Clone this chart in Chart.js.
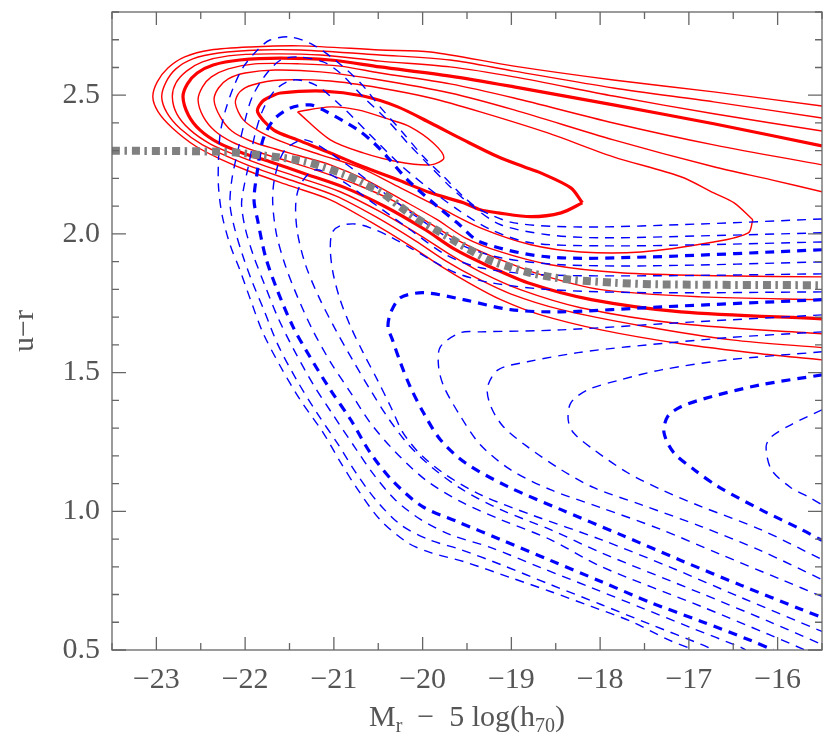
<!DOCTYPE html>
<html>
<head>
<meta charset="utf-8">
<title>u-r vs Mr contours</title>
<script src="https://cdn.jsdelivr.net/npm/chart.js@4.4.1/dist/chart.umd.min.js"></script>
<style>
  html, body { margin: 0; padding: 0; background: #fff; }
  #wrap { width: 830px; height: 746px; }
</style>
</head>
<body>
<div id="wrap"><canvas id="cmd" width="830" height="746"></canvas></div>
<script>
// Axis ticks
const xTicks = [-23, -22, -21, -20, -19, -18, -17, -16];
const yTicks = [0.5, 1.0, 1.5, 2.0, 2.5];

// Red (solid) contours, outer to inner; c4 and c8 are the heavy ones
const redC1 = [[-15.5,2.461],[-16.72,2.512],[-17.85,2.555],[-18.97,2.605],[-19.91,2.656],[-20.48,2.663],[-21.38,2.678],[-21.94,2.674],[-22.39,2.663],[-22.68,2.638],[-22.87,2.598],[-22.99,2.548],[-23.04,2.494],[-22.98,2.440],[-22.82,2.382],[-22.56,2.317],[-22.26,2.267],[-21.94,2.224],[-21.49,2.173],[-21.04,2.123],[-20.59,2.044],[-20.14,1.957],[-19.80,1.885],[-19.46,1.820],[-19.12,1.763],[-18.67,1.708],[-17.99,1.654],[-17.09,1.604],[-16.19,1.568],[-15.5,1.546]];
const redC2 = [[-15.5,2.418],[-16.72,2.476],[-17.85,2.526],[-18.97,2.587],[-19.69,2.627],[-20.48,2.645],[-21.38,2.663],[-21.83,2.663],[-22.30,2.652],[-22.59,2.631],[-22.78,2.595],[-22.89,2.548],[-22.94,2.494],[-22.88,2.436],[-22.73,2.379],[-22.48,2.321],[-22.19,2.278],[-21.89,2.238],[-21.43,2.188],[-20.98,2.137],[-20.53,2.062],[-20.08,1.975],[-19.74,1.903],[-19.40,1.842],[-19.01,1.784],[-18.44,1.727],[-17.54,1.669],[-16.52,1.618],[-15.5,1.590]];
const redC3 = [[-15.5,2.371],[-16.72,2.433],[-17.85,2.497],[-18.97,2.566],[-19.69,2.602],[-20.48,2.623],[-21.15,2.645],[-21.72,2.649],[-22.19,2.642],[-22.48,2.620],[-22.66,2.587],[-22.78,2.544],[-22.82,2.494],[-22.77,2.433],[-22.62,2.375],[-22.39,2.324],[-22.11,2.285],[-21.81,2.249],[-21.38,2.202],[-20.93,2.152],[-20.48,2.080],[-20.02,1.993],[-19.69,1.925],[-19.35,1.863],[-18.90,1.799],[-18.22,1.734],[-17.09,1.676],[-15.5,1.640]];
const redC4 = [[-15.5,2.317],[-16.72,2.397],[-17.85,2.465],[-18.97,2.530],[-19.69,2.569],[-20.48,2.602],[-21.04,2.627],[-21.60,2.634],[-22.06,2.627],[-22.36,2.609],[-22.54,2.580],[-22.65,2.541],[-22.70,2.494],[-22.64,2.429],[-22.51,2.375],[-22.30,2.328],[-22.03,2.292],[-21.72,2.260],[-21.32,2.216],[-20.87,2.166],[-20.42,2.098],[-19.97,2.015],[-19.63,1.943],[-19.29,1.889],[-18.78,1.820],[-18.10,1.763],[-17.09,1.719],[-15.5,1.694]];
const redC5 = [[-15.5,2.249],[-16.72,2.321],[-17.85,2.400],[-18.97,2.490],[-19.69,2.541],[-20.48,2.580],[-20.93,2.605],[-21.38,2.613],[-21.89,2.613],[-22.19,2.595],[-22.38,2.566],[-22.48,2.530],[-22.53,2.483],[-22.47,2.422],[-22.34,2.371],[-22.15,2.332],[-21.89,2.299],[-21.60,2.270],[-21.21,2.231],[-20.76,2.180],[-20.31,2.116],[-19.91,2.036],[-19.57,1.971],[-19.23,1.921],[-18.67,1.853],[-17.99,1.799],[-16.86,1.773],[-15.5,1.763]];
const redC6 = [[-15.5,2.152],[-16.07,2.195],[-16.72,2.242],[-17.85,2.339],[-18.97,2.447],[-19.69,2.508],[-20.48,2.555],[-21.15,2.584],[-21.66,2.591],[-22.00,2.580],[-22.19,2.559],[-22.30,2.526],[-22.35,2.483],[-22.28,2.422],[-22.15,2.371],[-21.94,2.335],[-21.66,2.306],[-21.38,2.281],[-21.04,2.249],[-20.64,2.195],[-20.25,2.126],[-19.85,2.054],[-19.52,1.986],[-19.12,1.935],[-18.56,1.889],[-17.77,1.860],[-16.64,1.849],[-15.5,1.845]];
const redC7 = [[-16.28,2.051],[-16.49,2.112],[-16.72,2.148],[-17.09,2.206],[-17.85,2.278],[-18.59,2.364],[-19.35,2.440],[-19.91,2.490],[-20.48,2.526],[-21.04,2.551],[-21.60,2.555],[-21.92,2.537],[-22.06,2.512],[-22.11,2.472],[-22.02,2.411],[-21.83,2.368],[-21.55,2.328],[-21.15,2.285],[-20.70,2.238],[-20.25,2.166],[-19.80,2.094],[-19.35,2.022],[-18.78,1.961],[-18.22,1.935],[-17.54,1.935],[-16.72,1.971],[-16.33,2.004],[-16.28,2.051]];
const redC8 = [[-18.20,2.112],[-18.33,2.166],[-18.67,2.220],[-18.86,2.242],[-19.15,2.278],[-19.54,2.339],[-19.91,2.400],[-20.28,2.458],[-20.67,2.497],[-21.12,2.515],[-21.60,2.508],[-21.72,2.494],[-21.81,2.476],[-21.86,2.440],[-21.68,2.375],[-21.41,2.339],[-21.04,2.292],[-20.67,2.242],[-20.28,2.195],[-19.91,2.148],[-19.54,2.112],[-19.35,2.087],[-19.15,2.076],[-18.78,2.062],[-18.44,2.076],[-18.20,2.112]];
const redC9 = [[-21.41,2.440],[-21.04,2.458],[-20.73,2.447],[-20.36,2.411],[-20.14,2.386],[-19.88,2.328],[-19.76,2.274],[-19.91,2.249],[-20.28,2.260],[-20.67,2.292],[-21.04,2.339],[-21.41,2.440]];

// Blue (dashed) contours, outer to inner; b4, b8 and b12 are the heavy ones
const blueB1 = [[-15.5,2.054],[-16.86,2.036],[-18.22,2.025],[-18.97,2.040],[-19.35,2.087],[-19.54,2.134],[-19.76,2.206],[-19.99,2.278],[-20.22,2.364],[-20.48,2.458],[-20.70,2.544],[-20.96,2.620],[-21.23,2.681],[-21.49,2.710],[-21.72,2.699],[-21.86,2.663],[-22.02,2.602],[-22.13,2.530],[-22.22,2.447],[-22.28,2.364],[-22.30,2.267],[-22.30,2.170],[-22.26,2.069],[-22.17,1.961],[-22.06,1.871],[-21.94,1.763],[-21.80,1.644],[-21.60,1.521],[-21.38,1.402],[-21.12,1.283],[-20.93,1.179],[-20.73,1.078],[-20.48,0.970],[-20.17,0.887],[-19.91,0.851],[-19.54,0.819],[-19.01,0.761],[-18.56,0.711],[-18.10,0.657],[-17.65,0.603],[-17.24,0.538],[-16.94,0.50]];
const blueB2 = [[-15.5,2.004],[-16.86,1.993],[-17.99,1.986],[-18.59,1.997],[-19.12,2.033],[-19.43,2.098],[-19.69,2.170],[-19.91,2.242],[-20.17,2.328],[-20.40,2.411],[-20.67,2.494],[-20.93,2.580],[-21.12,2.620],[-21.41,2.638],[-21.60,2.627],[-21.77,2.573],[-21.92,2.494],[-22.00,2.411],[-22.08,2.303],[-22.15,2.195],[-22.17,2.105],[-22.12,2.022],[-22.03,1.925],[-21.92,1.827],[-21.78,1.719],[-21.63,1.600],[-21.42,1.474],[-21.20,1.359],[-20.95,1.240],[-20.76,1.143],[-20.53,1.042],[-20.25,0.952],[-19.93,0.898],[-19.57,0.862],[-19.12,0.808],[-18.56,0.736],[-17.99,0.664],[-17.43,0.592],[-16.86,0.520],[-16.72,0.50]];
const blueB3 = [[-15.5,1.971],[-16.86,1.961],[-17.99,1.957],[-18.78,1.968],[-19.23,2.015],[-19.57,2.080],[-19.91,2.159],[-20.25,2.249],[-20.59,2.357],[-20.93,2.465],[-21.21,2.537],[-21.46,2.555],[-21.66,2.519],[-21.80,2.447],[-21.89,2.357],[-21.96,2.249],[-22.02,2.159],[-22.04,2.105],[-22.00,2.022],[-21.91,1.925],[-21.78,1.817],[-21.63,1.698],[-21.45,1.582],[-21.23,1.456],[-21.01,1.348],[-20.76,1.229],[-20.55,1.132],[-20.31,1.042],[-20.02,0.970],[-19.69,0.916],[-19.23,0.869],[-18.67,0.797],[-18.10,0.725],[-17.54,0.653],[-16.98,0.581],[-16.41,0.509],[-16.36,0.50]];
const blueB4 = [[-15.5,1.943],[-17.46,1.917],[-18.59,1.917],[-19.35,1.971],[-19.61,2.040],[-19.83,2.098],[-20.17,2.195],[-20.40,2.278],[-20.55,2.328],[-20.73,2.375],[-21.12,2.447],[-21.27,2.465],[-21.49,2.454],[-21.68,2.411],[-21.80,2.339],[-21.86,2.231],[-21.90,2.123],[-21.86,2.051],[-21.77,1.917],[-21.64,1.799],[-21.46,1.665],[-21.27,1.557],[-21.04,1.438],[-20.81,1.330],[-20.59,1.211],[-20.33,1.107],[-20.00,1.017],[-19.61,0.963],[-19.12,0.898],[-18.56,0.823],[-17.99,0.747],[-17.43,0.671],[-16.86,0.603],[-16.30,0.534],[-16.05,0.50]];
const blueB5 = [[-15.5,1.899],[-17.43,1.885],[-18.44,1.889],[-19.12,1.914],[-19.57,1.961],[-20.02,2.051],[-20.48,2.159],[-20.93,2.267],[-21.32,2.339],[-21.55,2.303],[-21.66,2.213],[-21.69,2.123],[-21.65,2.004],[-21.55,1.889],[-21.41,1.773],[-21.24,1.654],[-21.04,1.539],[-20.81,1.427],[-20.59,1.319],[-20.31,1.215],[-19.97,1.114],[-19.57,1.035],[-19.12,0.970],[-18.56,0.898],[-17.99,0.801],[-16.86,0.657],[-16.10,0.556],[-15.69,0.50]];
const blueB6 = [[-15.5,1.856],[-17.43,1.849],[-18.67,1.853],[-19.35,1.878],[-19.74,1.925],[-20.14,2.015],[-20.53,2.105],[-20.93,2.195],[-21.21,2.231],[-21.38,2.177],[-21.43,2.105],[-21.41,2.004],[-21.32,1.889],[-21.17,1.773],[-20.98,1.654],[-20.79,1.546],[-20.59,1.438],[-20.39,1.337],[-20.16,1.240],[-19.89,1.157],[-19.55,1.078],[-19.12,1.006],[-18.56,0.934],[-17.99,0.851],[-16.86,0.704],[-16.10,0.603],[-15.5,0.520]];
const blueB7 = [[-15.5,1.791],[-17.43,1.788],[-18.56,1.799],[-19.23,1.824],[-19.63,1.860],[-19.91,1.907],[-20.14,1.950],[-20.36,1.989],[-20.59,2.022],[-20.76,2.036],[-20.93,2.029],[-21.02,2.004],[-21.04,1.943],[-21.01,1.860],[-20.93,1.763],[-20.81,1.665],[-20.67,1.572],[-20.51,1.474],[-20.36,1.377],[-20.22,1.283],[-20.02,1.204],[-19.74,1.132],[-19.35,1.060],[-18.78,0.988],[-17.99,0.898],[-17.20,0.797],[-16.41,0.689],[-15.5,0.567]];
const blueB8 = [[-15.5,1.763],[-17.31,1.737],[-18.44,1.719],[-19.01,1.727],[-19.54,1.763],[-19.99,1.788],[-20.25,1.770],[-20.36,1.716],[-20.39,1.665],[-20.34,1.618],[-20.25,1.536],[-20.14,1.449],[-19.99,1.355],[-19.80,1.258],[-19.52,1.175],[-19.04,1.089],[-18.44,1.006],[-17.77,0.916],[-17.09,0.823],[-16.41,0.733],[-15.73,0.646],[-15.5,0.617]];
const blueB9 = [[-15.5,1.708],[-16.94,1.683],[-18.44,1.654],[-19.35,1.647],[-19.57,1.644],[-19.80,1.593],[-19.82,1.521],[-19.76,1.449],[-19.57,1.341],[-19.35,1.240],[-19.01,1.150],[-18.56,1.078],[-17.99,1.013],[-17.31,0.934],[-16.64,0.844],[-15.96,0.754],[-15.5,0.693]];
const blueB10 = [[-15.5,1.647],[-16.56,1.626],[-17.69,1.593],[-18.25,1.572],[-18.82,1.539],[-19.15,1.510],[-19.27,1.446],[-19.23,1.377],[-19.09,1.305],[-18.82,1.233],[-18.44,1.150],[-18.07,1.085],[-17.54,1.024],[-16.86,0.945],[-16.19,0.858],[-15.5,0.754]];
const blueB11 = [[-15.5,1.575],[-16.56,1.546],[-17.31,1.510],[-17.77,1.474],[-18.14,1.438],[-18.33,1.391],[-18.36,1.330],[-18.30,1.283],[-18.07,1.222],[-17.69,1.139],[-17.31,1.078],[-16.86,1.017],[-16.19,0.934],[-15.5,0.826]];
const blueB12 = [[-15.5,1.492],[-16.19,1.456],[-16.75,1.413],[-17.09,1.377],[-17.24,1.341],[-17.28,1.283],[-17.17,1.211],[-16.94,1.150],[-16.67,1.089],[-16.19,1.006],[-15.73,0.934],[-15.5,0.895]];
const blueB13 = [[-15.5,1.366],[-15.85,1.312],[-16.07,1.269],[-16.13,1.233],[-16.07,1.150],[-15.85,1.085],[-15.66,1.053],[-15.5,1.024]];

// Grey dash-dot ridge line
const ridgeLine = [[-23.5,2.300],[-22.26,2.296],[-21.80,2.283],[-21.32,2.260],[-20.87,2.213],[-20.66,2.180],[-20.44,2.144],[-20.25,2.098],[-20.06,2.054],[-19.85,2.015],[-19.66,1.979],[-19.47,1.943],[-19.26,1.907],[-19.02,1.881],[-18.79,1.860],[-18.56,1.845],[-18.32,1.835],[-17.85,1.824],[-17.32,1.818],[-15.5,1.815]];

const SERIF = '"Liberation Serif", "DejaVu Serif", serif';
const INK = '#555';

function contour(data, color, width, dash, order) {
    return {
        data: data,
        showLine: true,
        borderColor: color,
        borderWidth: width,
        borderDash: dash,
        pointRadius: 0,
        tension: 0.3,
        fill: false,
        order: order
    };
}

const reds = [redC1, redC2, redC3, redC4, redC5, redC6, redC7, redC8, redC9];
const blues = [blueB1, blueB2, blueB3, blueB4, blueB5, blueB6, blueB7, blueB8, blueB9, blueB10, blueB11, blueB12, blueB13];

const datasets = [];
datasets.push({
    data: ridgeLine,
    showLine: true,
    borderColor: '#808080',
    borderWidth: 8,
    borderDash: [8, 4.5, 2.5, 5],
    borderCapStyle: 'butt',
    pointRadius: 0,
    tension: 0.3,
    fill: false,
    order: 0
});
blues.forEach((d, i) => {
    const heavy = (i === 3 || i === 7 || i === 11);
    datasets.push(contour(d, '#0000ff', heavy ? 3.2 : 1.4, [9, 7], 1));
});
reds.forEach((d, i) => {
    const heavy = (i === 3 || i === 7);
    datasets.push(contour(d, '#ff0000', heavy ? 3.2 : 1.4, [], 2));
});

// frame with inward ticks on all four sides
const framePlugin = {
    id: 'framePlugin',
    afterDraw(chart) {
        const { ctx, chartArea: a, scales } = chart;
        const xs = scales.x, ys = scales.y;
        ctx.save();
        ctx.strokeStyle = '#666';
        ctx.lineWidth = 1.3;
        ctx.strokeRect(a.left, a.top, a.right - a.left, a.bottom - a.top);
        ctx.beginPath();
        for (let k = -47; k <= -31; k++) {
            const v = k / 2;
            const px = xs.getPixelForValue(v);
            const len = (k % 2 === 0) ? 13 : 7;
            ctx.moveTo(px, a.bottom); ctx.lineTo(px, a.bottom - len);
            ctx.moveTo(px, a.top); ctx.lineTo(px, a.top + len);
        }
        for (let k = 5; k <= 28; k++) {
            const py = ys.getPixelForValue(k / 10);
            const len = (k % 5 === 0) ? 14 : 7;
            ctx.moveTo(a.left, py); ctx.lineTo(a.left + len, py);
            ctx.moveTo(a.right, py); ctx.lineTo(a.right - len, py);
        }
        ctx.stroke();

        // axis titles with subscripts
        ctx.fillStyle = INK;
        ctx.textBaseline = 'alphabetic';
        const big = '30px ' + SERIF, small = '20px ' + SERIF;
        const parts = [['M', big, 0], ['r', small, 6], ['  \u2212  5 log(h', big, 0], ['70', small, 6], [')', big, 0]];
        let w = 0;
        parts.forEach(p => { ctx.font = p[1]; w += ctx.measureText(p[0]).width; });
        let x = (a.left + a.right) / 2 - w / 2;
        parts.forEach(p => {
            ctx.font = p[1];
            ctx.fillText(p[0], x, a.bottom + 76 + p[2]);
            x += ctx.measureText(p[0]).width;
        });

        ctx.translate(33, (a.top + a.bottom) / 2);
        ctx.rotate(-Math.PI / 2);
        ctx.font = big;
        ctx.textAlign = 'center';
        ctx.fillText('u\u2212r', 0, 0);
        ctx.restore();
    }
};

new Chart(document.getElementById('cmd'), {
    type: 'scatter',
    data: { datasets: datasets },
    options: {
        responsive: false,
        animation: false,
        layout: { padding: { top: 12, right: 8, left: 0, bottom: 0 } },
        plugins: { legend: { display: false }, tooltip: { enabled: false } },
        scales: {
            x: {
                type: 'linear',
                min: -23.5,
                max: -15.5,
                grid: { display: false, drawTicks: false },
                border: { display: false },
                afterBuildTicks: s => { s.ticks = xTicks.map(v => ({ value: v })); },
                afterFit: s => { s.height = 96; s.paddingLeft = 0; s.paddingRight = 0; },
                ticks: {
                    padding: 12,
                    color: INK,
                    font: { family: SERIF, size: 30 },
                    maxRotation: 0,
                    callback: v => (v < 0 ? '\u2212' + Math.abs(v) : String(v))
                }
            },
            y: {
                type: 'linear',
                min: 0.5,
                max: 2.8,
                grid: { display: false, drawTicks: false },
                border: { display: false },
                afterBuildTicks: s => { s.ticks = yTicks.map(v => ({ value: v })); },
                afterFit: s => { s.width = 112; s.paddingTop = 0; s.paddingBottom = 0; },
                ticks: {
                    padding: 12,
                    color: INK,
                    font: { family: SERIF, size: 30 },
                    callback: v => Number(v).toFixed(1)
                }
            }
        }
    },
    plugins: [framePlugin]
});
</script>
</body>
</html>
